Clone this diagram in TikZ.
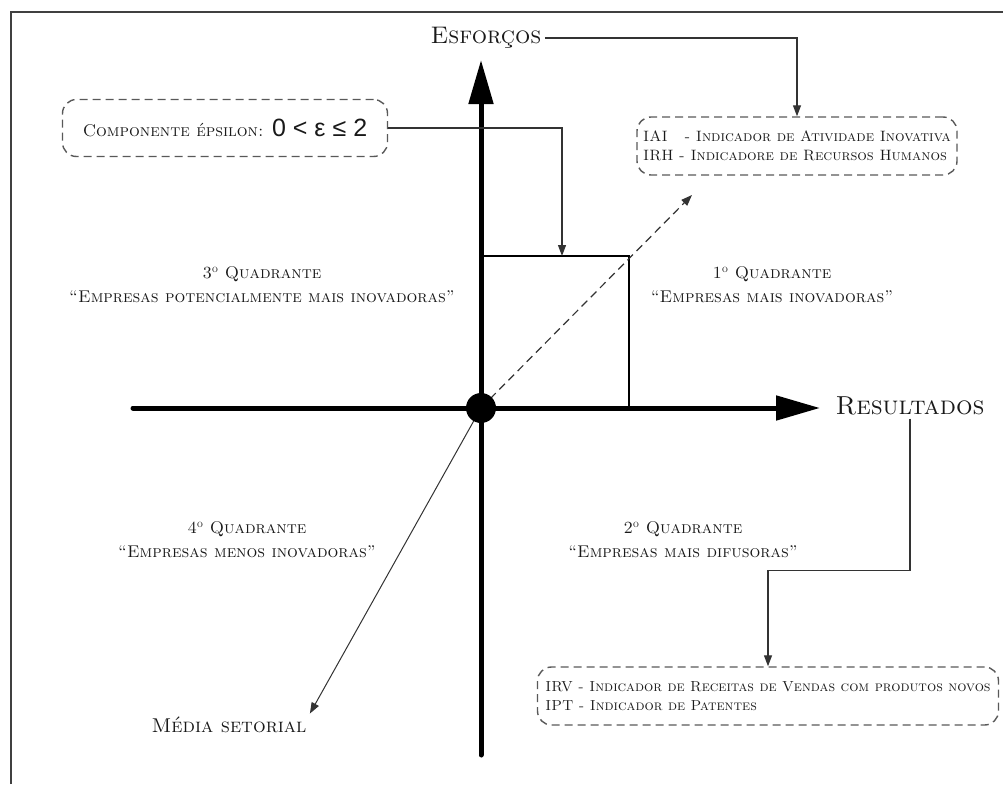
\documentclass[tikz,border=0pt]{standalone}
\usepackage{fontspec}
\newfontfamily\sansnum{Liberation Sans}
\usetikzlibrary{arrows.meta}
\tikzset{
  eixo/.style={line width=5pt,line cap=round,-{Triangle[length=44pt,width=24pt]}},
  liga/.style={line width=1.2pt,draw=black!80,-{Triangle[length=11pt,width=8pt]}},
  caixa/.style={draw=black!65,line width=1.4pt,dash pattern=on 8pt off 5pt,rounded corners=14pt,
    align=left,inner xsep=6pt,inner ysep=0pt,minimum height=58pt,text=black!90,
    font=\fontsize{15}{19}\selectfont\scshape},
  rotulo/.style={font=\fontsize{17}{24}\selectfont\scshape,align=center,text=black!90}
}
\newcommand{\ord}{\textsuperscript{\upshape o}}
\begin{document}
\begin{tikzpicture}[x=1pt,y=-1pt]
\useasboundingbox (0,0) rectangle (1003,784);
\draw[line width=1.5pt,black!75] (11,784) -- (11,12) -- (1003,12);
\coordinate (ybot) at (481,755);
\coordinate (ytop) at (481,60);
\coordinate (xesq) at (133,408);
\coordinate (xdir) at (820,408);
\coordinate (cantoa) at (481,256);
\coordinate (cantob) at (629,256);
\coordinate (cantoc) at (629,408);
\coordinate (seta) at (562,256);
\coordinate (dtip) at (692,195);
\draw[eixo] (ybot)--(ytop);
\draw[eixo] (xesq)--(xdir);
\draw[line width=1.2pt] (cantoa)--(cantob)--(cantoc);
\node[text=black!90,font=\fontsize{24}{28}\selectfont\scshape] at (486,38) (esf) {Esforços};
\node[text=black!90,font=\fontsize{26}{28}\selectfont\scshape] at (910,406) (res) {Resultados};
\node[text=black!90,font=\fontsize{20}{24}\selectfont\scshape] at (229,725) (media) {Média setorial};
\draw[liga,dash pattern=on 8pt off 5pt] (481,408)--(dtip);
\draw[liga,line width=1pt] (481,408)--(media.north east);
\node[circle,fill,minimum size=30pt,inner sep=0pt] at (481,408) (o) {};
\node[caixa,minimum width=320pt] at (797,146) (iai) {IAI\ \ \ - Indicador de Atividade Inovativa\\IRH - Indicadore de Recursos Humanos};
\node[caixa,minimum width=461pt,font=\fontsize{14.5}{19}\selectfont\scshape] at (768,696) (irv) {IRV - Indicador de Receitas de Vendas com produtos novos\\IPT - Indicador de Patentes};
\node[caixa,minimum width=325pt,minimum height=57pt,font=\fontsize{17}{19}\selectfont\scshape] at (225,128) (eps) {Componente épsilon: {\sansnum\upshape\fontsize{25}{26}\selectfont 0 < ε ≤ 2}};
\node[rotulo] at (262,285) (q3) {3\ord{} Quadrante\\“Empresas potencialmente mais inovadoras”};
\node[rotulo] at (772,285) (q1) {1\ord{} Quadrante\\“Empresas mais inovadoras”};
\node[rotulo] at (247,540) (q4) {4\ord{} Quadrante\\“Empresas menos inovadoras”};
\node[rotulo] at (683,540) (q2) {2\ord{} Quadrante\\“Empresas mais difusoras”};
\draw[liga] (esf.east) -| (iai.north);
\draw[liga] (eps.east) -| (seta);
\draw[liga] (res.south) -- ++(0,152) -| (irv.north);
\end{tikzpicture}
\end{document}
